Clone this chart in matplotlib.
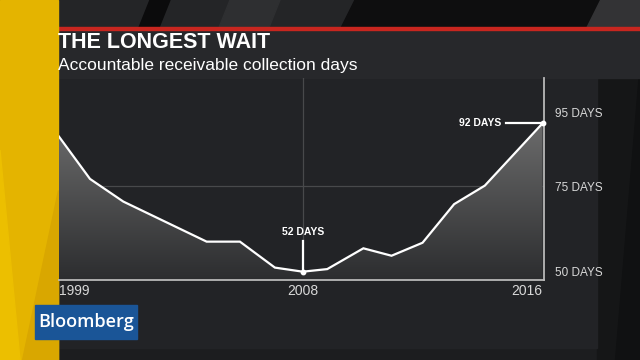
#!/usr/bin/env python3
"""The longest wait: accounts receivable collection days, 1999-2016."""
import matplotlib
matplotlib.use('Agg')
import matplotlib.pyplot as plt
from matplotlib.patches import Polygon, Rectangle
import numpy as np

# --- Data ---
# x positions are in "years since 1999" as drawn on the chart
x_pos = [0.0, 1.09, 2.26, 5.19, 6.36, 7.59, 8.57, 9.43, 10.70, 11.69, 12.78, 13.89, 14.97, 17.0]
days = [88.4, 77.0, 70.9, 60.1, 60.1, 53.1, 52.0, 52.7, 58.3, 56.3, 59.8, 70.2, 75.2, 92.0]
year_labels = ['1999', '2008', '2016']
year_idx = [0, 6, 13]          # which points carry the year labels
day_ticks = [50, 75, 95]
day_labels = ['50 DAYS', '75 DAYS', '95 DAYS']
low_idx, high_idx = 6, 13      # annotated points

TITLE = 'THE LONGEST WAIT'
SUBTITLE = 'Accountable receivable collection days'

# --- Style ---
W, H = 640, 360
YELLOW = '#e4b400'
RED = '#c8261f'
BG = '#1c1d1f'
PANEL = '#222326'
HEADER = '#27282b'
LIGHT = '#d8d8d8'
SANS = ['Liberation Sans', 'DejaVu Sans']

fig = plt.figure(figsize=(W / 100, H / 100), dpi=100, facecolor=BG)

# background canvas in pixel coords
bg = fig.add_axes([0, 0, 1, 1])
bg.set_xlim(0, W)
bg.set_ylim(H, 0)
bg.axis('off')

# top strip with diagonal shading
bg.add_patch(Rectangle((0, 0), W, 30, color='#242527', zorder=0))
for pts, c in [
    ([(150, 0), (170, 0), (158, 30), (138, 30)], '#0b0b0c'),
    ([(230, 0), (280, 0), (268, 30), (218, 30)], '#2e2f31'),
    ([(355, 0), (600, 0), (585, 30), (340, 30)], '#0e0e0f'),
    ([(600, 0), (640, 0), (640, 30), (585, 30)], '#333335'),
]:
    bg.add_patch(Polygon(pts, closed=True, color=c, zorder=1))

# right edge outside the chart panel
bg.add_patch(Rectangle((597, 30), 43, 330, color='#151617', zorder=1))
bg.add_patch(Polygon([(640, 60), (640, 360), (615, 360)], closed=True,
                     color='#101112', zorder=1))

# chart panel and header
bg.add_patch(Rectangle((55, 78), 542, 270, color=PANEL, zorder=2))
bg.add_patch(Rectangle((55, 30), 585, 48, color=HEADER, zorder=2))
bg.add_patch(Rectangle((55, 26.5), 585, 3, color=RED, zorder=3))

# yellow band with its subtle fold
bg.add_patch(Rectangle((0, 0), 58, H, color=YELLOW, zorder=4))
bg.add_patch(Polygon([(0, 150), (20, 360), (0, 360)], closed=True,
                     color='#ecbf00', zorder=4))
bg.add_patch(Polygon([(58, 190), (58, 360), (22, 360)], closed=True,
                     color='#d9a700', zorder=4))

# header text
bg.text(58, 43, TITLE, fontsize=15.5, fontweight='bold', color='white',
        family=SANS, va='center', ha='left', zorder=5)
bg.text(58, 65.5, SUBTITLE, fontsize=12.5, color='white',
        family=SANS, va='center', ha='left', zorder=5)

# Bloomberg badge
bg.add_patch(Rectangle((35, 305), 102, 34, color='#1a5597', zorder=5))
bg.text(86, 322, 'Bloomberg', fontsize=13, fontweight='semibold', color='white',
        family=['Open Sans'] + SANS, va='center', ha='center', zorder=6)

# --- Chart ---
x0, x1, y0, y1 = 59, 544, 78, 280
ax = fig.add_axes([x0 / W, 1 - y1 / H, (x1 - x0) / W, (y1 - y0) / H])
ax.set_facecolor('none')
ax.set_xlim(0, 17.05)
ax.set_ylim(49.76, 104.2)

# gradient fill under the line
grad = np.linspace(0, 1, 256).reshape(-1, 1)
cmap = matplotlib.colors.LinearSegmentedColormap.from_list('g', ['#2c2d2f', '#707070'])
img = ax.imshow(grad, extent=[0, 17.05, 49.76, 95], origin='lower', aspect='auto',
                cmap=cmap, zorder=1)
clip = Polygon(np.vstack([np.column_stack([x_pos, days]),
                          [[x_pos[-1], 49.76], [x_pos[0], 49.76]]]),
               closed=True, transform=ax.transData)
img.set_clip_path(clip)

# grid lines
ax.axhline(75, color='#48494b', lw=0.9, zorder=0.5)
ax.axvline(x_pos[low_idx], color='#48494b', lw=0.9, zorder=0.5)

ax.plot(x_pos, days, color='white', lw=1.6, zorder=3, solid_joinstyle='miter')
ax.scatter([x_pos[low_idx], x_pos[high_idx]], [days[low_idx], days[high_idx]],
           s=10, color='white', zorder=4, clip_on=False)

# annotations
ax.plot([x_pos[low_idx]] * 2, [days[low_idx], days[low_idx] + 8.2], color='white', lw=1.6, zorder=4)
ax.text(x_pos[low_idx], days[low_idx] + 10.7, f'{days[low_idx]:.0f} DAYS', color='white',
        fontsize=7.5, fontweight='bold', family=SANS, ha='center', va='center', zorder=5)
ax.plot([x_pos[high_idx] - 1.28, x_pos[high_idx]], [days[high_idx]] * 2, color='white', lw=1.6, zorder=4)
ax.text(x_pos[high_idx] - 1.45, days[high_idx], f'{days[high_idx]:.0f} DAYS', color='white',
        fontsize=7.5, fontweight='bold', family=SANS, ha='right', va='center', zorder=5)

for s in ['top', 'left']:
    ax.spines[s].set_visible(False)
for s in ['bottom', 'right']:
    ax.spines[s].set_color('#b8b8b8')
    ax.spines[s].set_linewidth(1.3)

ax.yaxis.tick_right()
ax.set_yticks(day_ticks)
ax.set_yticklabels(day_labels, family=SANS, fontsize=8.5, color=LIGHT)
ax.set_xticks([x_pos[i] for i in year_idx])
ax.set_xticklabels(year_labels, family=SANS, fontsize=10, color=LIGHT)
ax.tick_params(length=0, pad=3)
ax.tick_params(axis='y', pad=8)
ax.get_yticklabels()[0].set_va('bottom')
xt = ax.get_xticklabels()
xt[0].set_ha('left')
xt[-1].set_ha('right')

fig.savefig('out.png', dpi=100, facecolor=BG)
plt.close()
